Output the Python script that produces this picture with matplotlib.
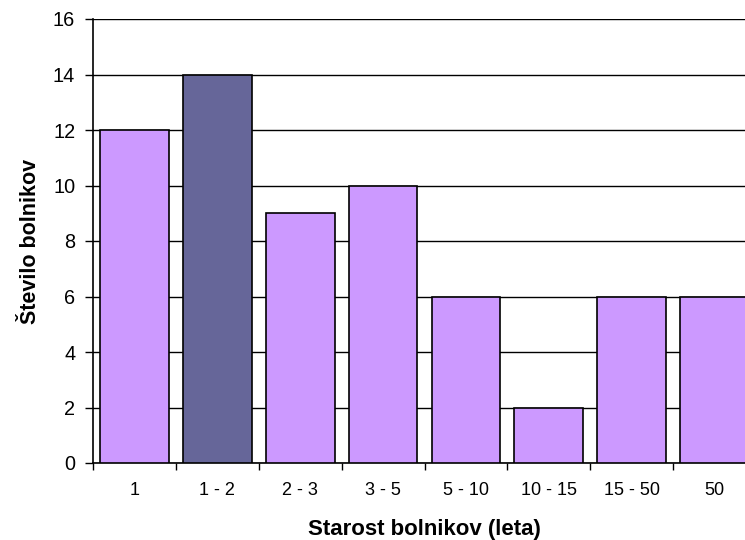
import matplotlib
matplotlib.use("Agg")
import matplotlib.pyplot as plt
import numpy as np

categories = ["1", "1 - 2", "2 - 3", "3 - 5", "5 - 10", "10 - 15", "15 - 50", "50"]
patients = [12, 14, 9, 10, 6, 2, 6, 6]
highlight = "1 - 2"

light = "#CC99FF"
dark = "#666699"

plt.rcParams["font.family"] = ["Liberation Sans", "DejaVu Sans"]

fig = plt.figure(figsize=(7.45, 5.4), dpi=100)
ax = fig.add_axes([93 / 745, 77 / 540, 663 / 745, 444 / 540])

x = np.arange(len(categories))
colors = [dark if c == highlight else light for c in categories]
ax.bar(x, patients, width=0.83, color=colors, edgecolor="black", linewidth=1.2, zorder=3)

ax.set_xlim(-0.5, len(categories) - 0.5)
ax.set_ylim(0, 16)
ax.set_yticks(range(0, 17, 2))
ax.tick_params(axis="y", labelsize=14.3, length=5.8, width=1, direction="out", pad=7)

# category labels centred under bars, tick marks between categories
ax.set_xticks(x)
ax.set_xticklabels(categories, fontsize=13)
ax.tick_params(axis="x", which="major", length=0, pad=13.5)
ax.set_xticks(np.arange(-0.5, len(categories) + 0.5, 1), minor=True)
ax.tick_params(axis="x", which="minor", length=5, width=1, direction="out")

ax.yaxis.grid(True, color="black", linewidth=1, zorder=0)
ax.set_axisbelow(True)
for side in ("top", "right"):
    ax.spines[side].set_visible(False)
ax.spines["left"].set_linewidth(1.2)
ax.spines["bottom"].set_linewidth(1.2)

ax.set_xlabel("Starost bolnikov (leta)", fontsize=16, fontweight="bold", labelpad=14.5)
ax.set_ylabel("Število bolnikov", fontsize=15.5, fontweight="bold", labelpad=8.5)

fig.savefig("out.png", dpi=100)
